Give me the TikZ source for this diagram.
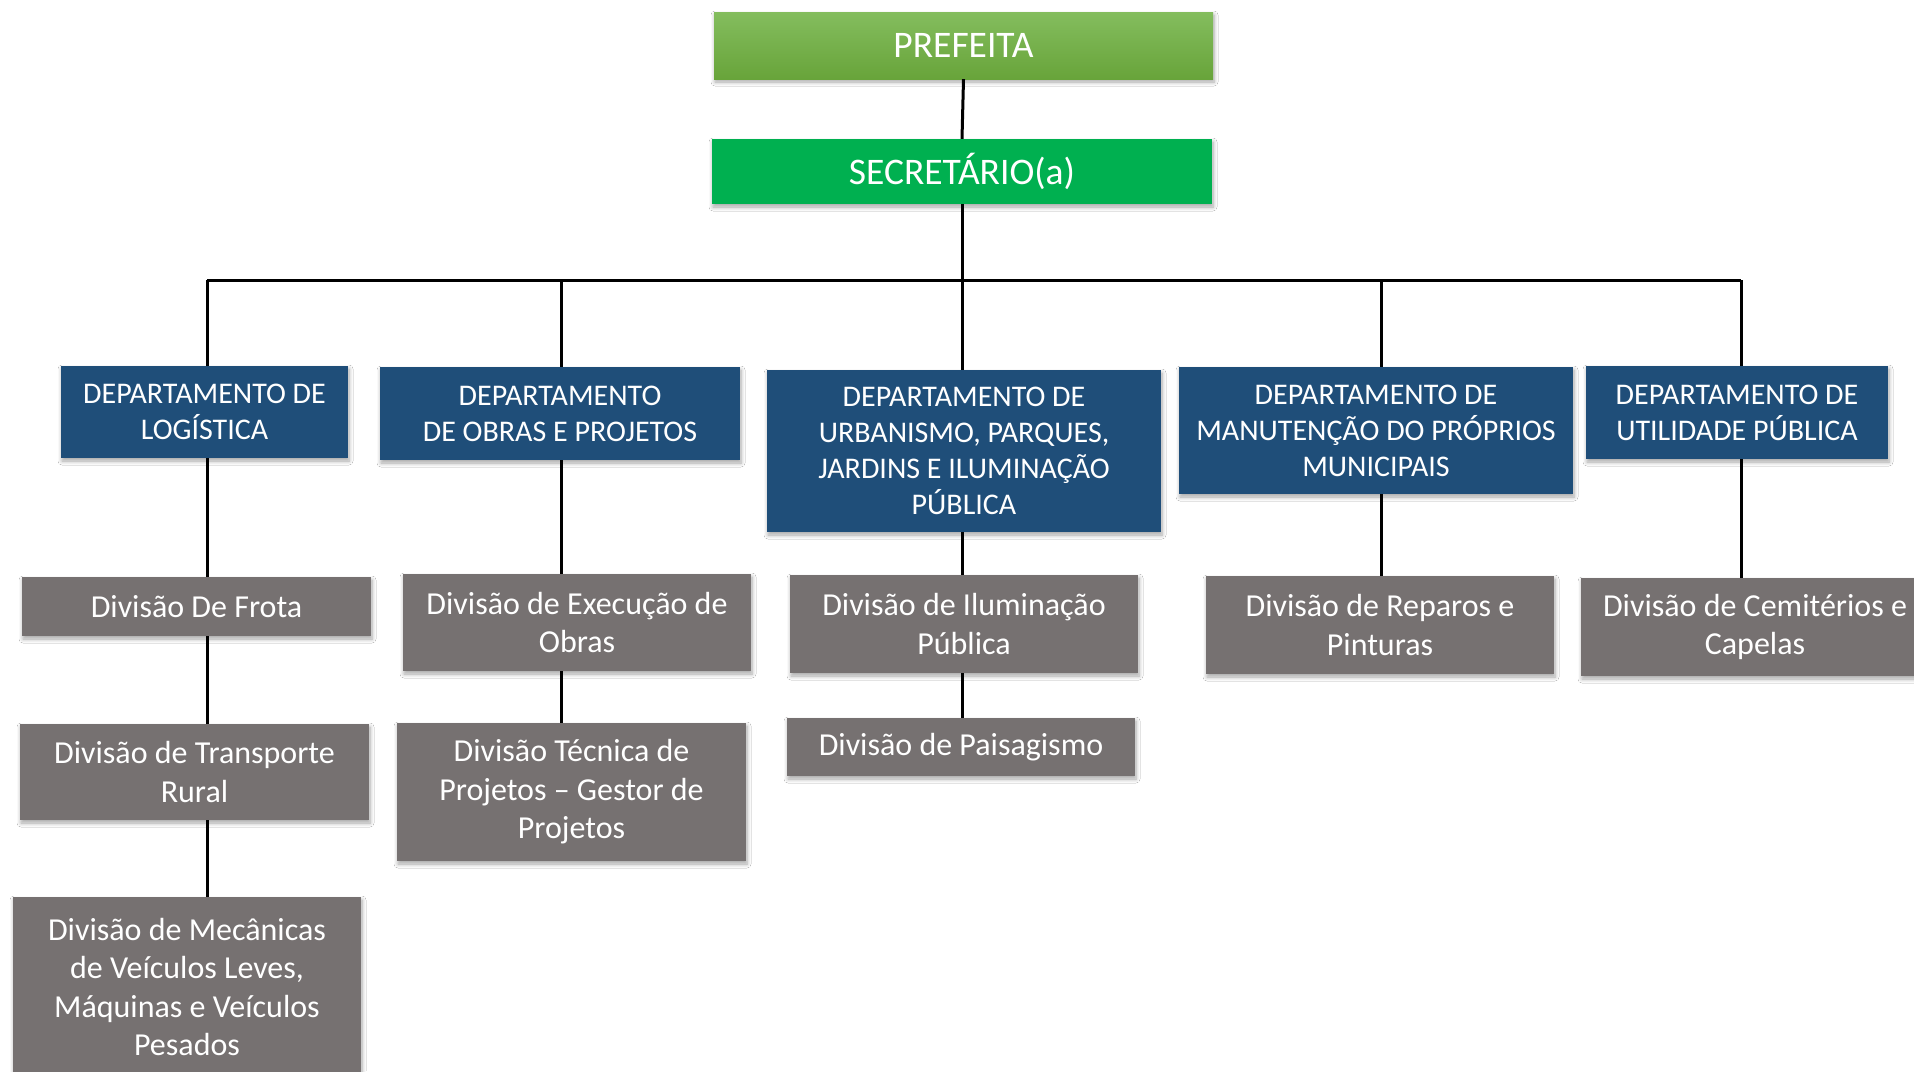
\documentclass[tikz,border=0pt]{standalone}
\usepackage{fontspec}
\setmainfont{Carlito}
\usetikzlibrary{shadows,shadows.blur}
\definecolor{prefA}{HTML}{84BD5E}
\definecolor{prefB}{HTML}{68A43A}
\definecolor{secG}{HTML}{00B050}
\definecolor{deptB}{HTML}{1F4E79}
\definecolor{divG}{HTML}{767171}
\tikzset{
  box/.style={rectangle, inner sep=0pt, align=center, text=white,
    blur shadow={shadow xshift=1pt, shadow yshift=-3pt, shadow blur radius=4pt, shadow blur steps=6, shadow opacity=35}},
  topbox/.style={box, font=\fontsize{37.5}{40}\selectfont},
  deptbox/.style={box, fill=deptB, font=\fontsize{30}{36}\selectfont},
  divbox/.style={box, fill=divG, font=\fontsize{32}{38.5}\selectfont},
  conn/.style={draw=black, line width=3pt}
}
\begin{document}
\begin{tikzpicture}[x=1pt, y=-1pt]
\useasboundingbox (0,0) rectangle (1914,1071);
\clip (0,0) rectangle (1914,1071);
\fill[white] (0,0) rectangle (1914,1071);

% top
\node[topbox, top color=prefA, bottom color=prefB, minimum width=499pt, minimum height=67pt] (pref) at (963.5,45.5) {PREFEITA};
\node[topbox, fill=secG, minimum width=500pt, minimum height=65pt] (sec) at (962,171.5) {SECRETÁRIO(a)};

% departments
\node[deptbox, minimum width=287pt, minimum height=92pt] (d1) at (204.5,412) {DEPARTAMENTO DE\\LOGÍSTICA};
\node[deptbox, minimum width=360pt, minimum height=93pt] (d2) at (560,413.5) {DEPARTAMENTO\\DE OBRAS E PROJETOS};
\node[deptbox, minimum width=394pt, minimum height=162pt] (d3) at (964,451) {DEPARTAMENTO DE\\URBANISMO, PARQUES,\\JARDINS E ILUMINAÇÃO\\PÚBLICA};
\node[deptbox, minimum width=394pt, minimum height=127pt] (d4) at (1376,430.5) {DEPARTAMENTO DE\\MANUTENÇÃO DO PRÓPRIOS\\MUNICIPAIS};
\node[deptbox, minimum width=302pt, minimum height=93pt] (d5) at (1737,412.5) {DEPARTAMENTO DE\\UTILIDADE PÚBLICA};

% divisions
\node[divbox, minimum width=349pt, minimum height=59pt] (f1) at (196.5,606.5) {Divisão De Frota};
\node[divbox, minimum width=349pt, minimum height=96pt] (f2) at (194.5,772) {Divisão de Transporte\\Rural};
\node[divbox, minimum width=348pt, minimum height=180pt] (f3) at (187,987) {Divisão de Mecânicas\\de Veículos Leves,\\Máquinas e Veículos\\Pesados};
\node[divbox, minimum width=348pt, minimum height=97pt] (o1) at (577,622.5) {Divisão de Execução de\\Obras};
\node[divbox, minimum width=349pt, minimum height=138pt] (o2) at (571.5,792) {Divisão Técnica de\\Projetos – Gestor de\\Projetos};
\node[divbox, minimum width=348pt, minimum height=98pt] (u1) at (964,624) {Divisão de Iluminação\\Pública};
\node[divbox, minimum width=348pt, minimum height=58pt] (u2) at (961,747) {Divisão de Paisagismo};
\node[divbox, minimum width=348pt, minimum height=98pt] (m1) at (1380,625) {Divisão de Reparos e\\Pinturas};
\node[divbox, minimum width=348pt, minimum height=98pt] (c1) at (1755,627) {Divisão de Cemitérios e\\Capelas};

% connectors
\coordinate (bus) at (962,280);
\coordinate (x1) at (207,0);
\coordinate (x2) at (561,0);
\coordinate (x3) at (962,0);
\coordinate (x4) at (1381,0);
\coordinate (x5) at (1741,0);
\draw[conn] (pref.south) -- (sec.north);
\draw[conn] (sec.south) -- (sec.south |- bus);
\draw[conn] (x1 |- bus) -- (x5 |- bus);
\foreach \i/\d in {1/d1,2/d2,3/d3,4/d4,5/d5}{
  \draw[conn] (x\i |- bus) -- (x\i |- \d.north);
}
\draw[conn] (x1 |- d1.south) -- (x1 |- f1.north);
\draw[conn] (x1 |- f1.south) -- (x1 |- f2.north);
\draw[conn] (x1 |- f2.south) -- (x1 |- f3.north);
\draw[conn] (x2 |- d2.south) -- (x2 |- o1.north);
\draw[conn] (x2 |- o1.south) -- (x2 |- o2.north);
\draw[conn] (x3 |- d3.south) -- (x3 |- u1.north);
\draw[conn] (x3 |- u1.south) -- (x3 |- u2.north);
\draw[conn] (x4 |- d4.south) -- (x4 |- m1.north);
\draw[conn] (x5 |- d5.south) -- (x5 |- c1.north);
\end{tikzpicture}
\end{document}
